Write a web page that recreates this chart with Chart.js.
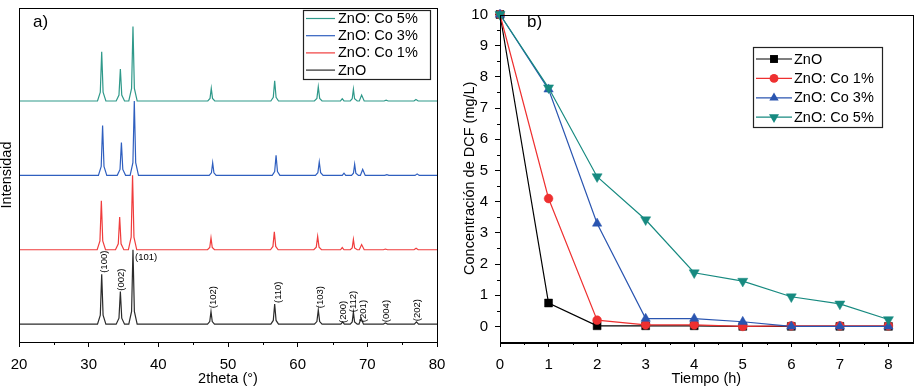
<!DOCTYPE html>
<html lang="es">
<head>
<meta charset="UTF-8">
<title>DRX y degradación de DCF</title>
<script src="https://cdn.jsdelivr.net/npm/chart.js@4"></script>
<style>
    body { margin: 0; background: #fff; }
    canvas { position: absolute; top: 0; }
    #xrdChart { left: 0; }
    #dcfChart { left: 460px; }
</style>
</head>
<body>
<canvas id="xrdChart" width="460" height="388"></canvas>
<canvas id="dcfChart" width="459" height="388"></canvas>
<script>
// ---- panel a) XRD patterns, [2theta, relative intensity]
const xrdNames = ['ZnO', 'ZnO: Co 1%', 'ZnO: Co 3%', 'ZnO: Co 5%'];
const xrdColors = ['#2b2b2b', '#f03c3c', '#2f5fbf', '#2f998a'];
const xrdOffsets = [0, 100, 200, 300];

const xrdZnO = [
    [20,0],
    [31.27,0],[31.67,12],[31.87,67],[32.07,12],[32.47,0],
    [33.95,0],[34.35,8],[34.55,44],[34.75,8],[35.15,0],
    [35.76,0],[36.16,17],[36.36,100],[36.56,17],[36.96,0],
    [47.06,0],[47.38,3.5],[47.56,17],[47.74,3.5],[48.06,0],
    [56.15,0],[56.5,5],[56.7,27],[56.9,5],[57.25,0],
    [62.4,0],[62.76,3.5],[62.96,19],[63.16,3.5],[63.5,0],
    [66.2,0],[66.45,3],[66.7,0],
    [67.55,0],[67.83,3],[68.0,16],[68.17,3],[68.55,0],
    [68.8,0],[69.1,8],[69.45,0],
    [72.3,0],[72.6,1.5],[72.9,0],
    [76.75,0],[77.05,3],[77.35,0],
    [80,0]
];
const xrdCo1 = [
    [20,0],
    [31.22,0],[31.62,12],[31.82,66],[32.02,12],[32.42,0],
    [33.85,0],[34.25,8],[34.45,44],[34.65,8],[35.05,0],
    [35.7,0],[36.1,17],[36.3,100],[36.5,17],[36.9,0],
    [47.06,0],[47.38,3],[47.56,16],[47.74,3],[48.06,0],
    [56.1,0],[56.45,4.5],[56.65,24],[56.85,4.5],[57.2,0],
    [62.32,0],[62.67,3.5],[62.87,18],[63.07,3.5],[63.42,0],
    [66.15,0],[66.4,3],[66.65,0],
    [67.55,0],[67.83,2.5],[68.0,14],[68.17,2.5],[68.55,0],
    [68.85,0],[69.18,7],[69.55,0],
    [72.3,0],[72.6,1],[72.9,0],
    [76.7,0],[77.0,2],[77.3,0],
    [80,0]
];
const xrdCo3 = [
    [20,0],
    [31.4,0],[31.8,12],[32.0,67],[32.2,12],[32.6,0],
    [34.1,0],[34.5,8],[34.7,44],[34.9,8],[35.3,0],
    [35.95,0],[36.35,17],[36.55,100],[36.75,17],[37.15,0],
    [47.3,0],[47.62,3.5],[47.8,17],[47.98,3.5],[48.3,0],
    [56.35,0],[56.7,5],[56.9,27],[57.1,5],[57.45,0],
    [62.55,0],[62.9,3.5],[63.1,18],[63.3,3.5],[63.65,0],
    [66.4,0],[66.65,3],[66.9,0],
    [67.73,0],[68.01,3],[68.18,15],[68.35,3],[68.72,0],
    [69.0,0],[69.33,8],[69.7,0],
    [72.5,0],[72.8,1],[73.1,0],
    [76.85,0],[77.15,2],[77.45,0],
    [80,0]
];
const xrdCo5 = [
    [20,0],
    [31.27,0],[31.67,12],[31.87,66],[32.07,12],[32.47,0],
    [33.95,0],[34.35,8],[34.55,43],[34.75,8],[35.15,0],
    [35.76,0],[36.16,17],[36.36,100],[36.56,17],[36.96,0],
    [47.1,0],[47.42,3.5],[47.6,17],[47.78,3.5],[48.1,0],
    [56.15,0],[56.5,5],[56.7,27],[56.9,5],[57.25,0],
    [62.4,0],[62.76,3.5],[62.96,19],[63.16,3.5],[63.5,0],
    [66.15,0],[66.4,3],[66.65,0],
    [67.55,0],[67.83,3],[68.0,16],[68.17,3],[68.55,0],
    [68.85,0],[69.18,8],[69.55,0],
    [72.4,0],[72.7,1],[73.0,0],
    [76.7,0],[76.98,2],[77.3,0],
    [80,0]
];
const xrdSeries = [xrdZnO, xrdCo1, xrdCo3, xrdCo5];

// Miller indices written above the ZnO pattern
const peakNames = ['(100)', '(002)', '(102)', '(110)', '(103)', '(200)', '(112)', '(201)', '(004)', '(202)'];
const peakNameX = [32.2, 34.74, 47.85, 57.3, 63.3, 66.55, 68.0, 69.42, 72.68, 77.17];
const peakNameY = [69, 45, 21.5, 28.5, 21.5, 1.5, 16, 2.7, 2.7, 4];

const xTicksA = [20, 30, 40, 50, 60, 70, 80];
const xMinorA = [25, 35, 45, 55, 65, 75];

// ---- panel b) DCF concentration vs time
const tiempo = [0, 1, 2, 3, 4, 5, 6, 7, 8];
const dcfZnO = [10, 0.75, 0.02, 0.02, 0.02, 0.0, 0.0, 0.0, 0.0];
const dcfCo1 = [10, 4.1, 0.2, 0.05, 0.05, 0.0, 0.02, 0.02, 0.02];
const dcfCo3 = [10, 7.6, 3.3, 0.25, 0.25, 0.15, 0.0, 0.0, 0.0];
const dcfCo5 = [10, 7.65, 4.8, 3.42, 1.72, 1.45, 0.95, 0.72, 0.22];
const dcfNames = ['ZnO', 'ZnO: Co 1%', 'ZnO: Co 3%', 'ZnO: Co 5%'];
const dcfColors = ['#000000', '#ee3030', '#2a55b0', '#178a80'];

const xTicksB = [0, 1, 2, 3, 4, 5, 6, 7, 8];
const yTicksB = [0, 1, 2, 3, 4, 5, 6, 7, 8, 9, 10];
const xMinorB = [0.5, 1.5, 2.5, 3.5, 4.5, 5.5, 6.5, 7.5];
const yMinorB = [0.5, 1.5, 2.5, 3.5, 4.5, 5.5, 6.5, 7.5, 8.5, 9.5];

const FONT = '"Liberation Sans", Arial, Helvetica, sans-serif';

// marker shapes for the legend of b)
function drawMarker(ctx, style, x, y, r) {
    ctx.beginPath();
    if (style === 'rect') {
        const s = r * Math.SQRT1_2;
        ctx.rect(x - s, y - s, 2 * s, 2 * s);
    } else if (style === 'circle') {
        ctx.arc(x, y, r, 0, Math.PI * 2);
    } else {
        const dir = style === 'triangleDown' ? -1 : 1;
        const h = r * Math.cos(Math.PI / 3);
        const w = r * Math.sin(Math.PI / 3);
        ctx.moveTo(x, y - dir * r);
        ctx.lineTo(x + w, y + dir * h);
        ctx.lineTo(x - w, y + dir * h);
        ctx.closePath();
    }
    ctx.fill();
}

// box around the plot, minor ticks, panel letter
const framePlugin = {
    id: 'frame',
    afterDraw(chart, args, opts) {
        const ctx = chart.ctx;
        const a = chart.chartArea;
        ctx.save();
        ctx.strokeStyle = '#000';
        ctx.lineWidth = 1;
        ctx.strokeRect(Math.round(a.left) + 0.5, Math.round(a.top) + 0.5,
            Math.round(a.right - a.left), Math.round(a.bottom - a.top));
        ctx.beginPath();
        (opts.xMinor || []).forEach(v => {
            const px = Math.round(chart.scales.x.getPixelForValue(v)) + 0.5;
            ctx.moveTo(px, a.bottom);
            ctx.lineTo(px, a.bottom + 3);
        });
        (opts.yMinor || []).forEach(v => {
            const py = Math.round(chart.scales.y.getPixelForValue(v)) + 0.5;
            ctx.moveTo(a.left, py);
            ctx.lineTo(a.left - 3, py);
        });
        ctx.stroke();
        ctx.fillStyle = '#000';
        ctx.font = '17px ' + FONT;
        ctx.textBaseline = 'middle';
        ctx.fillText(opts.letter, opts.letterX, opts.letterY);
        ctx.restore();
    }
};

// legend with a border, drawn inside the plot
const boxLegendPlugin = {
    id: 'boxLegend',
    afterDraw(chart, args, opts) {
        const ctx = chart.ctx;
        ctx.save();
        ctx.fillStyle = '#fff';
        ctx.fillRect(opts.box[0], opts.box[1], opts.box[2] - opts.box[0], opts.box[3] - opts.box[1]);
        ctx.strokeStyle = '#222';
        ctx.lineWidth = 1.2;
        ctx.strokeRect(opts.box[0] + 0.5, opts.box[1] + 0.5, opts.box[2] - opts.box[0], opts.box[3] - opts.box[1]);
        ctx.font = '14.5px ' + FONT;
        ctx.textBaseline = 'middle';
        opts.rows.forEach((row, i) => {
            const y = opts.y0 + i * opts.dy;
            ctx.strokeStyle = row.color;
            ctx.lineWidth = 1.2;
            ctx.beginPath();
            ctx.moveTo(opts.lineX[0], y);
            ctx.lineTo(opts.lineX[1], y);
            ctx.stroke();
            if (row.marker) {
                ctx.fillStyle = row.color;
                drawMarker(ctx, row.marker, (opts.lineX[0] + opts.lineX[1]) / 2, y, row.radius);
            }
            ctx.fillStyle = '#000';
            ctx.fillText(row.label, opts.textX, y + 0.5);
        });
        ctx.restore();
    }
};

// Miller index labels of panel a)
const peakLabelPlugin = {
    id: 'peakLabels',
    afterDatasetsDraw(chart) {
        const ctx = chart.ctx;
        const xs = chart.scales.x, ys = chart.scales.y;
        ctx.save();
        ctx.fillStyle = '#000';
        ctx.font = '9.5px ' + FONT;
        ctx.textBaseline = 'middle';
        ctx.textAlign = 'left';
        peakNames.forEach((t, i) => {
            ctx.save();
            ctx.translate(xs.getPixelForValue(peakNameX[i]), ys.getPixelForValue(peakNameY[i]));
            ctx.rotate(-Math.PI / 2);
            ctx.fillText(t, 0, 0);
            ctx.restore();
        });
        // (101) is written horizontally beside its peak
        ctx.fillText('(101)', xs.getPixelForValue(36.65), ys.getPixelForValue(90));
        ctx.restore();
    }
};

const tickFont = { family: FONT, size: 15, lineHeight: 1 };
const titleFont = { family: FONT, size: 14.5, lineHeight: 1 };

// ---------- chart a)
new Chart(document.getElementById('xrdChart'), {
    type: 'line',
    data: {
        datasets: xrdSeries.map((pts, i) => ({
            label: xrdNames[i],
            data: pts.map(p => ({ x: p[0], y: p[1] + xrdOffsets[i] })),
            borderColor: xrdColors[i],
            borderWidth: 1.2,
            pointRadius: 0,
            tension: 0
        }))
    },
    options: {
        responsive: false,
        animation: false,
        layout: { padding: { left: 0, top: 8, right: 23, bottom: 0 } },
        scales: {
            x: {
                type: 'linear', min: 20, max: 80,
                afterBuildTicks: s => { s.ticks = xTicksA.map(v => ({ value: v })); },
                afterFit: s => { s.height = 46; },
                grid: { drawOnChartArea: false, tickLength: 5, color: '#000' },
                border: { color: '#000' },
                ticks: { font: tickFont, color: '#000', padding: 10, maxRotation: 0 },
                title: { display: true, text: '2theta (°)', font: titleFont, color: '#000', padding: { top: 0, bottom: 2 } }
            },
            y: {
                min: -24, max: 425,
                afterFit: s => { s.width = 19; },
                grid: { display: false },
                border: { color: '#000' },
                ticks: { display: false },
                title: { display: true, text: 'Intensidad', font: titleFont, color: '#000', padding: { top: 0, bottom: 0 } }
            }
        },
        plugins: {
            legend: { display: false },
            tooltip: { enabled: false },
            frame: { xMinor: xMinorA, letter: 'a)', letterX: 33, letterY: 22 },
            boxLegend: {
                box: [303, 10, 430, 79],
                y0: 18.5, dy: 17.2,
                lineX: [306, 335], textX: 338,
                rows: [3, 2, 1, 0].map(i => ({ label: xrdNames[i], color: xrdColors[i] }))
            }
        }
    },
    plugins: [framePlugin, boxLegendPlugin, peakLabelPlugin]
});

// ---------- chart b)
const dcfSeries = [dcfZnO, dcfCo1, dcfCo3, dcfCo5];
const dcfMarkers = [
    { style: 'rect', radius: 5.6, rotation: 0 },
    { style: 'circle', radius: 4.4, rotation: 0 },
    { style: 'triangle', radius: 5.4, rotation: 0 },
    { style: 'triangle', radius: 5.8, rotation: 180 }
];

new Chart(document.getElementById('dcfChart'), {
    type: 'line',
    data: {
        datasets: dcfSeries.map((vals, i) => ({
            label: dcfNames[i],
            data: vals.map((v, k) => ({ x: tiempo[k], y: v })),
            borderColor: dcfColors[i],
            backgroundColor: dcfColors[i],
            borderWidth: 1.2,
            pointStyle: dcfMarkers[i].style,
            pointRadius: dcfMarkers[i].radius,
            pointRotation: dcfMarkers[i].rotation,
            pointBorderWidth: 0.5,
            tension: 0,
            clip: 8,
            order: 4 - i
        }))
    },
    options: {
        responsive: false,
        animation: false,
        layout: { padding: { left: 0, top: 8, right: 2, bottom: 0 } },
        scales: {
            x: {
                type: 'linear', min: 0, max: 8.5,
                afterBuildTicks: s => { s.ticks = xTicksB.map(v => ({ value: v })); },
                afterFit: s => { s.height = 46; },
                grid: { drawOnChartArea: false, tickLength: 5, color: '#000' },
                border: { color: '#000' },
                ticks: { font: tickFont, color: '#000', padding: 10, maxRotation: 0 },
                title: { display: true, text: 'Tiempo (h)', font: titleFont, color: '#000', padding: { top: 0, bottom: 2 } }
            },
            y: {
                min: -0.5, max: 10,
                afterBuildTicks: s => { s.ticks = yTicksB.map(v => ({ value: v })); },
                afterFit: s => { s.width = 40; },
                grid: { drawOnChartArea: false, tickLength: 5, color: '#000' },
                border: { color: '#000' },
                ticks: { font: tickFont, color: '#000', padding: 7 },
                title: { display: true, text: 'Concentración de DCF (mg/L)', font: titleFont, color: '#000', padding: { top: 3, bottom: 0 } }
            }
        },
        plugins: {
            legend: { display: false },
            tooltip: { enabled: false },
            frame: { xMinor: xMinorB, yMinor: yMinorB, letter: 'b)', letterX: 67, letterY: 22 },
            boxLegend: {
                box: [293, 47, 422, 127],
                y0: 59, dy: 19.4,
                lineX: [296, 332], textX: 334,
                rows: [0, 1, 2, 3].map(i => ({
                    label: dcfNames[i], color: dcfColors[i],
                    marker: i === 3 ? 'triangleDown' : dcfMarkers[i].style,
                    radius: dcfMarkers[i].radius
                }))
            }
        }
    },
    plugins: [framePlugin, boxLegendPlugin]
});
</script>
</body>
</html>
